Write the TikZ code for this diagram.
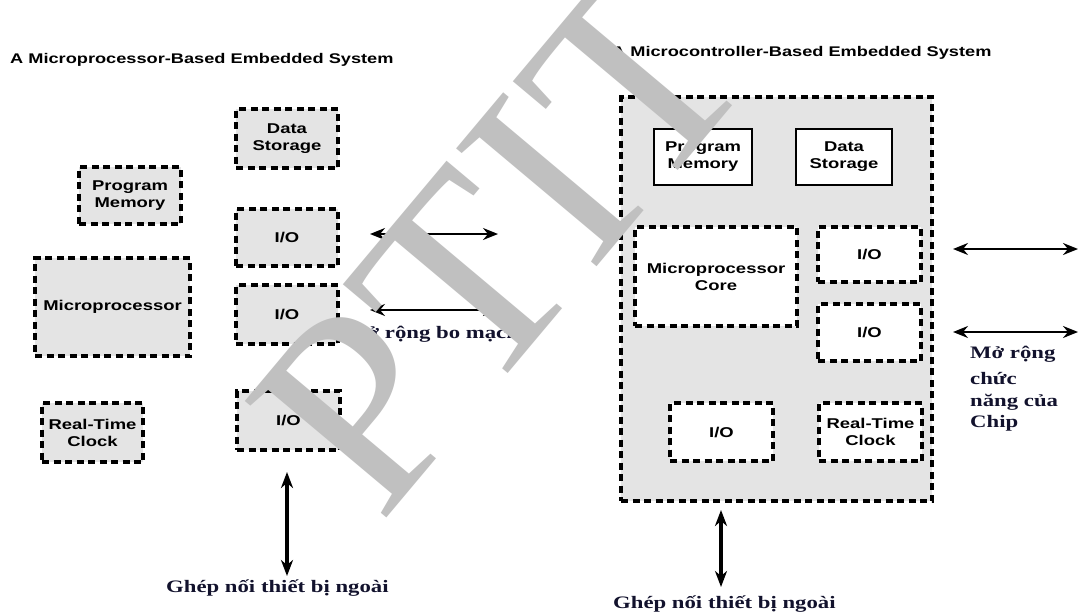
\documentclass[tikz,border=0pt]{standalone}
\usepackage{fontspec}
\setmainfont{Liberation Serif}
\setsansfont{Liberation Sans}[FakeStretch=1.3]
\newfontfamily\vietfont{Liberation Serif}[FakeStretch=1.3]
\newfontfamily\wmfont{Liberation Serif}
\usetikzlibrary{arrows.meta}
\definecolor{boxgray}{RGB}{228,228,228}
\definecolor{wmgray}{RGB}{192,192,192}
\definecolor{navy}{RGB}{18,18,45}
\tikzset{
  boxfont/.style={font=\sffamily\bfseries\fontsize{14.2}{17}\selectfont},
  dbox/.style={boxfont, draw, line width=4pt, dash pattern=on 7pt off 4.5pt,
     fill=boxgray, align=center, inner sep=0pt},
  wbox/.style={dbox, fill=white},
  sbox/.style={boxfont, draw, line width=2.4pt, fill=white, align=center, inner sep=0pt},
  outerbox/.style={draw, line width=4pt, dash pattern=on 7pt off 4.5pt, fill=boxgray, inner sep=0pt},
  title/.style={font=\sffamily\bfseries\fontsize{14}{17}\selectfont, anchor=base west, inner sep=0pt},
  viet/.style={font=\vietfont\bfseries\fontsize{17.5}{23}\selectfont, text=navy, anchor=base west, inner sep=0pt},
  harrow/.style={{Stealth[length=15pt,width=12pt,inset=5pt]}-{Stealth[length=15pt,width=12pt,inset=5pt]}, line width=2.2pt},
  varrow/.style={{Stealth[length=16pt,width=12pt,inset=5pt]}-{Stealth[length=16pt,width=12pt,inset=5pt]}, line width=3.2pt},
}
\begin{document}
\begin{tikzpicture}[x=1pt,y=-1pt]
\fill[white] (0,0) rectangle (1078,613);
\path[use as bounding box] (0,0) rectangle (1078,613);

% titles
\node[title] (t1) at (10,63) {A Microprocessor-Based Embedded System};
\node[title] (t2) at (612,56) {A Microcontroller-Based Embedded System};

% left system
\node[dbox, minimum width=102pt, minimum height=59pt] (ds1) at (287,138.5) {Data\\Storage};
\node[dbox, minimum width=102pt, minimum height=57pt] (pm1) at (130,195.5) {Program\\Memory};
\node[dbox, minimum width=102pt, minimum height=57pt] (io1) at (287,237.5) {I/O};
\node[dbox, minimum width=155pt, minimum height=98pt] (mp1) at (112.5,307) {Microprocessor};
\node[dbox, minimum width=102pt, minimum height=59pt] (io2) at (287,314.5) {I/O};
\node[dbox, minimum width=101pt, minimum height=59pt] (rtc1) at (92.5,432.5) {Real-Time\\Clock};
\node[dbox, minimum width=103pt, minimum height=59pt] (io3) at (288.5,420.5) {I/O};

\coordinate (a1l) at (370,234);
\coordinate (a1r) at (498,234);
\coordinate (a2l) at (370,310);
\coordinate (a2r) at (498,310);
\draw[harrow] (a1l) -- (a1r);
\draw[harrow] (a2l) -- (a2r);
\node[viet] (lbl1) at (345,338) {Mở rộng bo mạch};

\coordinate (v1t) at (287,472);
\coordinate (v1b) at (287,576);
\draw[varrow] (v1t) -- (v1b);
\node[viet] (lbl2) at (166,592) {Ghép nối thiết bị ngoài};

% right system
\node[outerbox, minimum width=311pt, minimum height=404pt] (mcu) at (776.5,299) {};
\node[sbox, minimum width=98pt, minimum height=56pt] (pm2) at (703,157) {Program\\Memory};
\node[sbox, minimum width=96pt, minimum height=56pt] (ds2) at (844,157) {Data\\Storage};
\node[wbox, minimum width=162pt, minimum height=99pt] (core) at (716,276.5) {Microprocessor\\Core};
\node[wbox, minimum width=103pt, minimum height=55pt] (io4) at (869.5,254.5) {I/O};
\node[wbox, minimum width=103pt, minimum height=57pt] (io5) at (869.5,332.5) {I/O};
\node[wbox, minimum width=103pt, minimum height=58pt] (io6) at (721.5,432) {I/O};
\node[wbox, minimum width=103pt, minimum height=58pt] (rtc2) at (870.5,432) {Real-Time\\Clock};

\coordinate (b1l) at (953,249);
\coordinate (b1r) at (1078,249);
\coordinate (b2l) at (953,332);
\coordinate (b2r) at (1078,332);
\draw[harrow] (b1l) -- (b1r);
\draw[harrow] (b2l) -- (b2r);
\node[viet] (lbl4a) at (970,358) {Mở rộng};
\node[viet] (lbl4b) at (970,384) {chức};
\node[viet] (lbl4c) at (970,406) {năng của};
\node[viet] (lbl4d) at (970,427) {Chip};

\coordinate (v2t) at (721,510);
\coordinate (v2b) at (721,587);
\draw[varrow] (v2t) -- (v2b);
\node[viet] (lbl3) at (613,608) {Ghép nối thiết bị ngoài};

% watermark
\node[font=\wmfont\fontsize{280}{280}\selectfont, text=wmgray, rotate=50, inner sep=0pt] (wm) at (500,240) {PTIT};
\end{tikzpicture}
\end{document}
